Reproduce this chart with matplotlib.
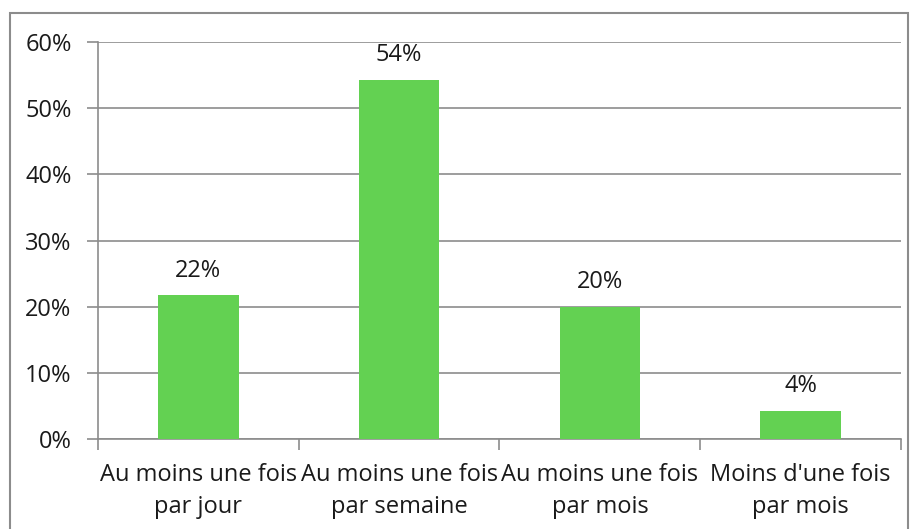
import matplotlib
matplotlib.use("Agg")
import matplotlib.pyplot as plt
from matplotlib.patches import Rectangle
import numpy as np

categories = ["Au moins une fois\npar jour", "Au moins une fois\npar semaine",
              "Au moins une fois\npar mois", "Moins d'une fois\npar mois"]
values = [21.7, 54.3, 20.0, 4.3]
yticks = [0, 10, 20, 30, 40, 50, 60]

plt.rcParams['font.family'] = ['Open Sans', 'DejaVu Sans']
fs = 17

fig = plt.figure(figsize=(9.16, 5.29), dpi=100)
ax = fig.add_axes([98/916, 1 - 439/529, 803/916, 397/529])

x = np.arange(len(categories))
bars = ax.bar(x, values, width=0.4, color='#63D152', zorder=3)
for b, v in zip(bars, values):
    ax.text(b.get_x() + b.get_width()/2, v + 1.9, f"{v:.0f}%",
            ha='center', va='bottom', fontsize=fs, color='#1a1a1a')

ax.set_xlim(-0.5, len(categories) - 0.5)
ax.set_ylim(0, 60)
ax.set_yticks(yticks)
ax.set_yticklabels([f"{t}%" for t in yticks], fontsize=fs, color='#1a1a1a')
ax.yaxis.grid(True, color='#8c8c8c', linewidth=1.2, zorder=0)

# category labels between boundary ticks
ax.set_xticks(x)
ax.set_xticklabels(categories, fontsize=fs, color='#1a1a1a', linespacing=1.45)
ax.tick_params(axis='x', length=0, pad=17)
ax.set_xticks(np.arange(len(categories) + 1) - 0.5, minor=True)
ax.tick_params(axis='x', which='minor', length=8, color='#8c8c8c', width=1.2)
ax.tick_params(axis='y', length=8, color='#8c8c8c', width=1.2, pad=11)

for s in ['top', 'right']:
    ax.spines[s].set_visible(False)
for s in ['left', 'bottom']:
    ax.spines[s].set_color('#8c8c8c')
    ax.spines[s].set_linewidth(1.2)

# outer chart frame
fig.patches.append(Rectangle((10/916, -0.05), 898/916, 1.05 - 13/529,
                             transform=fig.transFigure, fill=False,
                             edgecolor='#8c8c8c', linewidth=1.5))

fig.savefig("out.png", dpi=100)
